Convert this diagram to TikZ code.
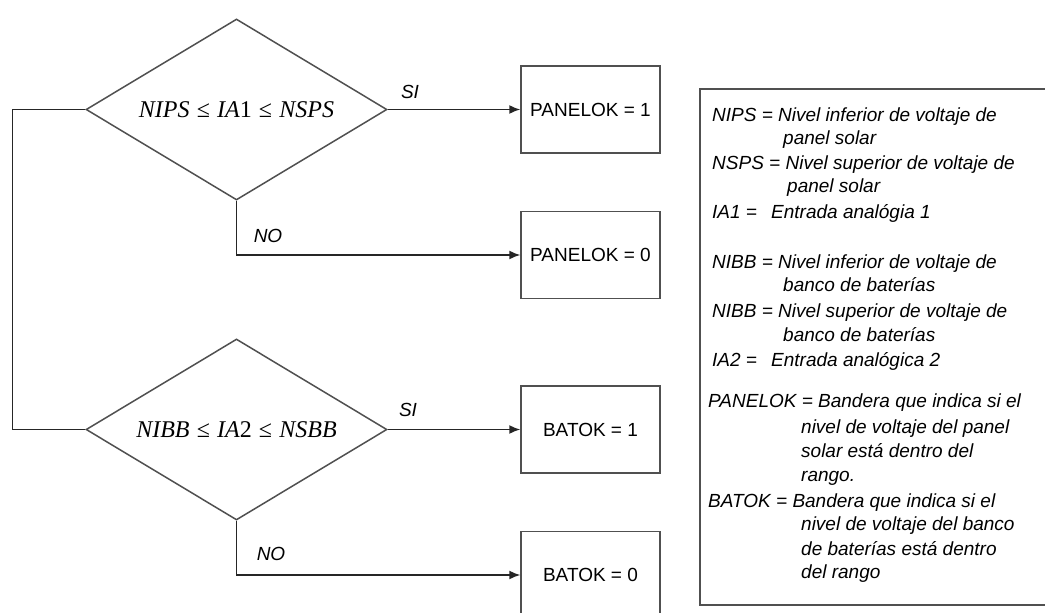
\documentclass[tikz,border=0pt]{standalone}
\usepackage{fontspec}
\setmainfont{Liberation Sans}
\newfontfamily\eqfont{Liberation Serif}
\usetikzlibrary{shapes.geometric,arrows.meta}
\definecolor{ln}{RGB}{80,80,80}
\newcommand{\myleq}{\hspace{0.3em}{\upshape ≤}\hspace{0.3em}}
\begin{document}
\begin{tikzpicture}[x=1pt,y=-1pt,
  dec/.style={diamond,draw=ln,line width=1.5pt,minimum width=301pt,minimum height=181pt,aspect=1.66,inner sep=0pt,font=\eqfont\itshape\fontsize{24}{28}\selectfont},
  outbox/.style={rectangle,draw=ln,line width=1.5pt,minimum width=139pt,minimum height=87pt,inner sep=0pt,font=\fontsize{19}{23}\selectfont},
  conn/.style={line width=1.5pt,draw=black!85},
  arr/.style={conn,-{Latex[length=11pt,width=9pt]}},
  lbl/.style={font=\fontsize{19}{23}\selectfont\itshape,inner sep=0pt},
  leg/.style={font=\fontsize{19}{23}\selectfont\itshape,anchor=base west,inner sep=0pt}]
\useasboundingbox (0,0) rectangle (1045,613);
\clip (0,0) rectangle (1045,613);
\fill[white] (0,0) rectangle (1045,613);

\node[dec] (d1) at (236.5,109.5) {NIPS\myleq IA{\upshape 1}\myleq NSPS};
\node[dec] (d2) at (236.5,429.5) {NIBB\myleq IA{\upshape 2}\myleq NSBB};

\node[outbox] (p1) at (590.5,109.5) {PANELOK = 1};
\node[outbox] (p0) at (590.5,255) {PANELOK = 0};
\node[outbox] (b1) at (590.5,429.5) {BATOK = 1};
\node[outbox] (b0) at (590.5,575) {BATOK = 0};

\draw[conn] (d1.west) -- ++(-73,0) |- (d2.west);
\draw[arr] (d1.east) -- (p1.west);
\draw[arr] (d1.south) |- (p0.west);
\draw[arr] (d2.east) -- (b1.west);
\draw[arr] (d2.south) |- (b0.west);

\node[lbl] (si1) at (410,92) {SI};
\node[lbl] (no1) at (268,236) {NO};
\node[lbl] (si2) at (408,410) {SI};
\node[lbl] (no2) at (271,554) {NO};

\node[draw=ln,line width=1.5pt,minimum width=360pt,minimum height=516pt,anchor=north west,inner sep=0pt] (legend) at (699,88) {};

\foreach \xx/\yy/\tt [count=\i] in {
712/121/{NIPS = Nivel inferior de voltaje de},
783/144/{panel solar},
712/169/{NSPS = Nivel superior de voltaje de},
787/192/{panel solar},
712/218/{IA1 =},
771/218/{Entrada analógia 1},
712/268/{NIBB = Nivel inferior de voltaje de},
783/291/{banco de baterías},
712/317/{NIBB = Nivel superior de voltaje de},
783/341/{banco de baterías},
712/366/{IA2 =},
771/366/{Entrada analógica 2},
708/407/{PANELOK = Bandera que indica si el},
801/433/{nivel de voltaje del panel},
801/457/{solar está dentro del},
801/481/{rango.},
708/507/{BATOK = Bandera que indica si el},
801/530/{nivel de voltaje del banco},
801/555/{de baterías está dentro},
801/578/{del rango}}
  \node[leg] (L\i) at (\xx,\yy) {\tt};
\end{tikzpicture}
\end{document}
